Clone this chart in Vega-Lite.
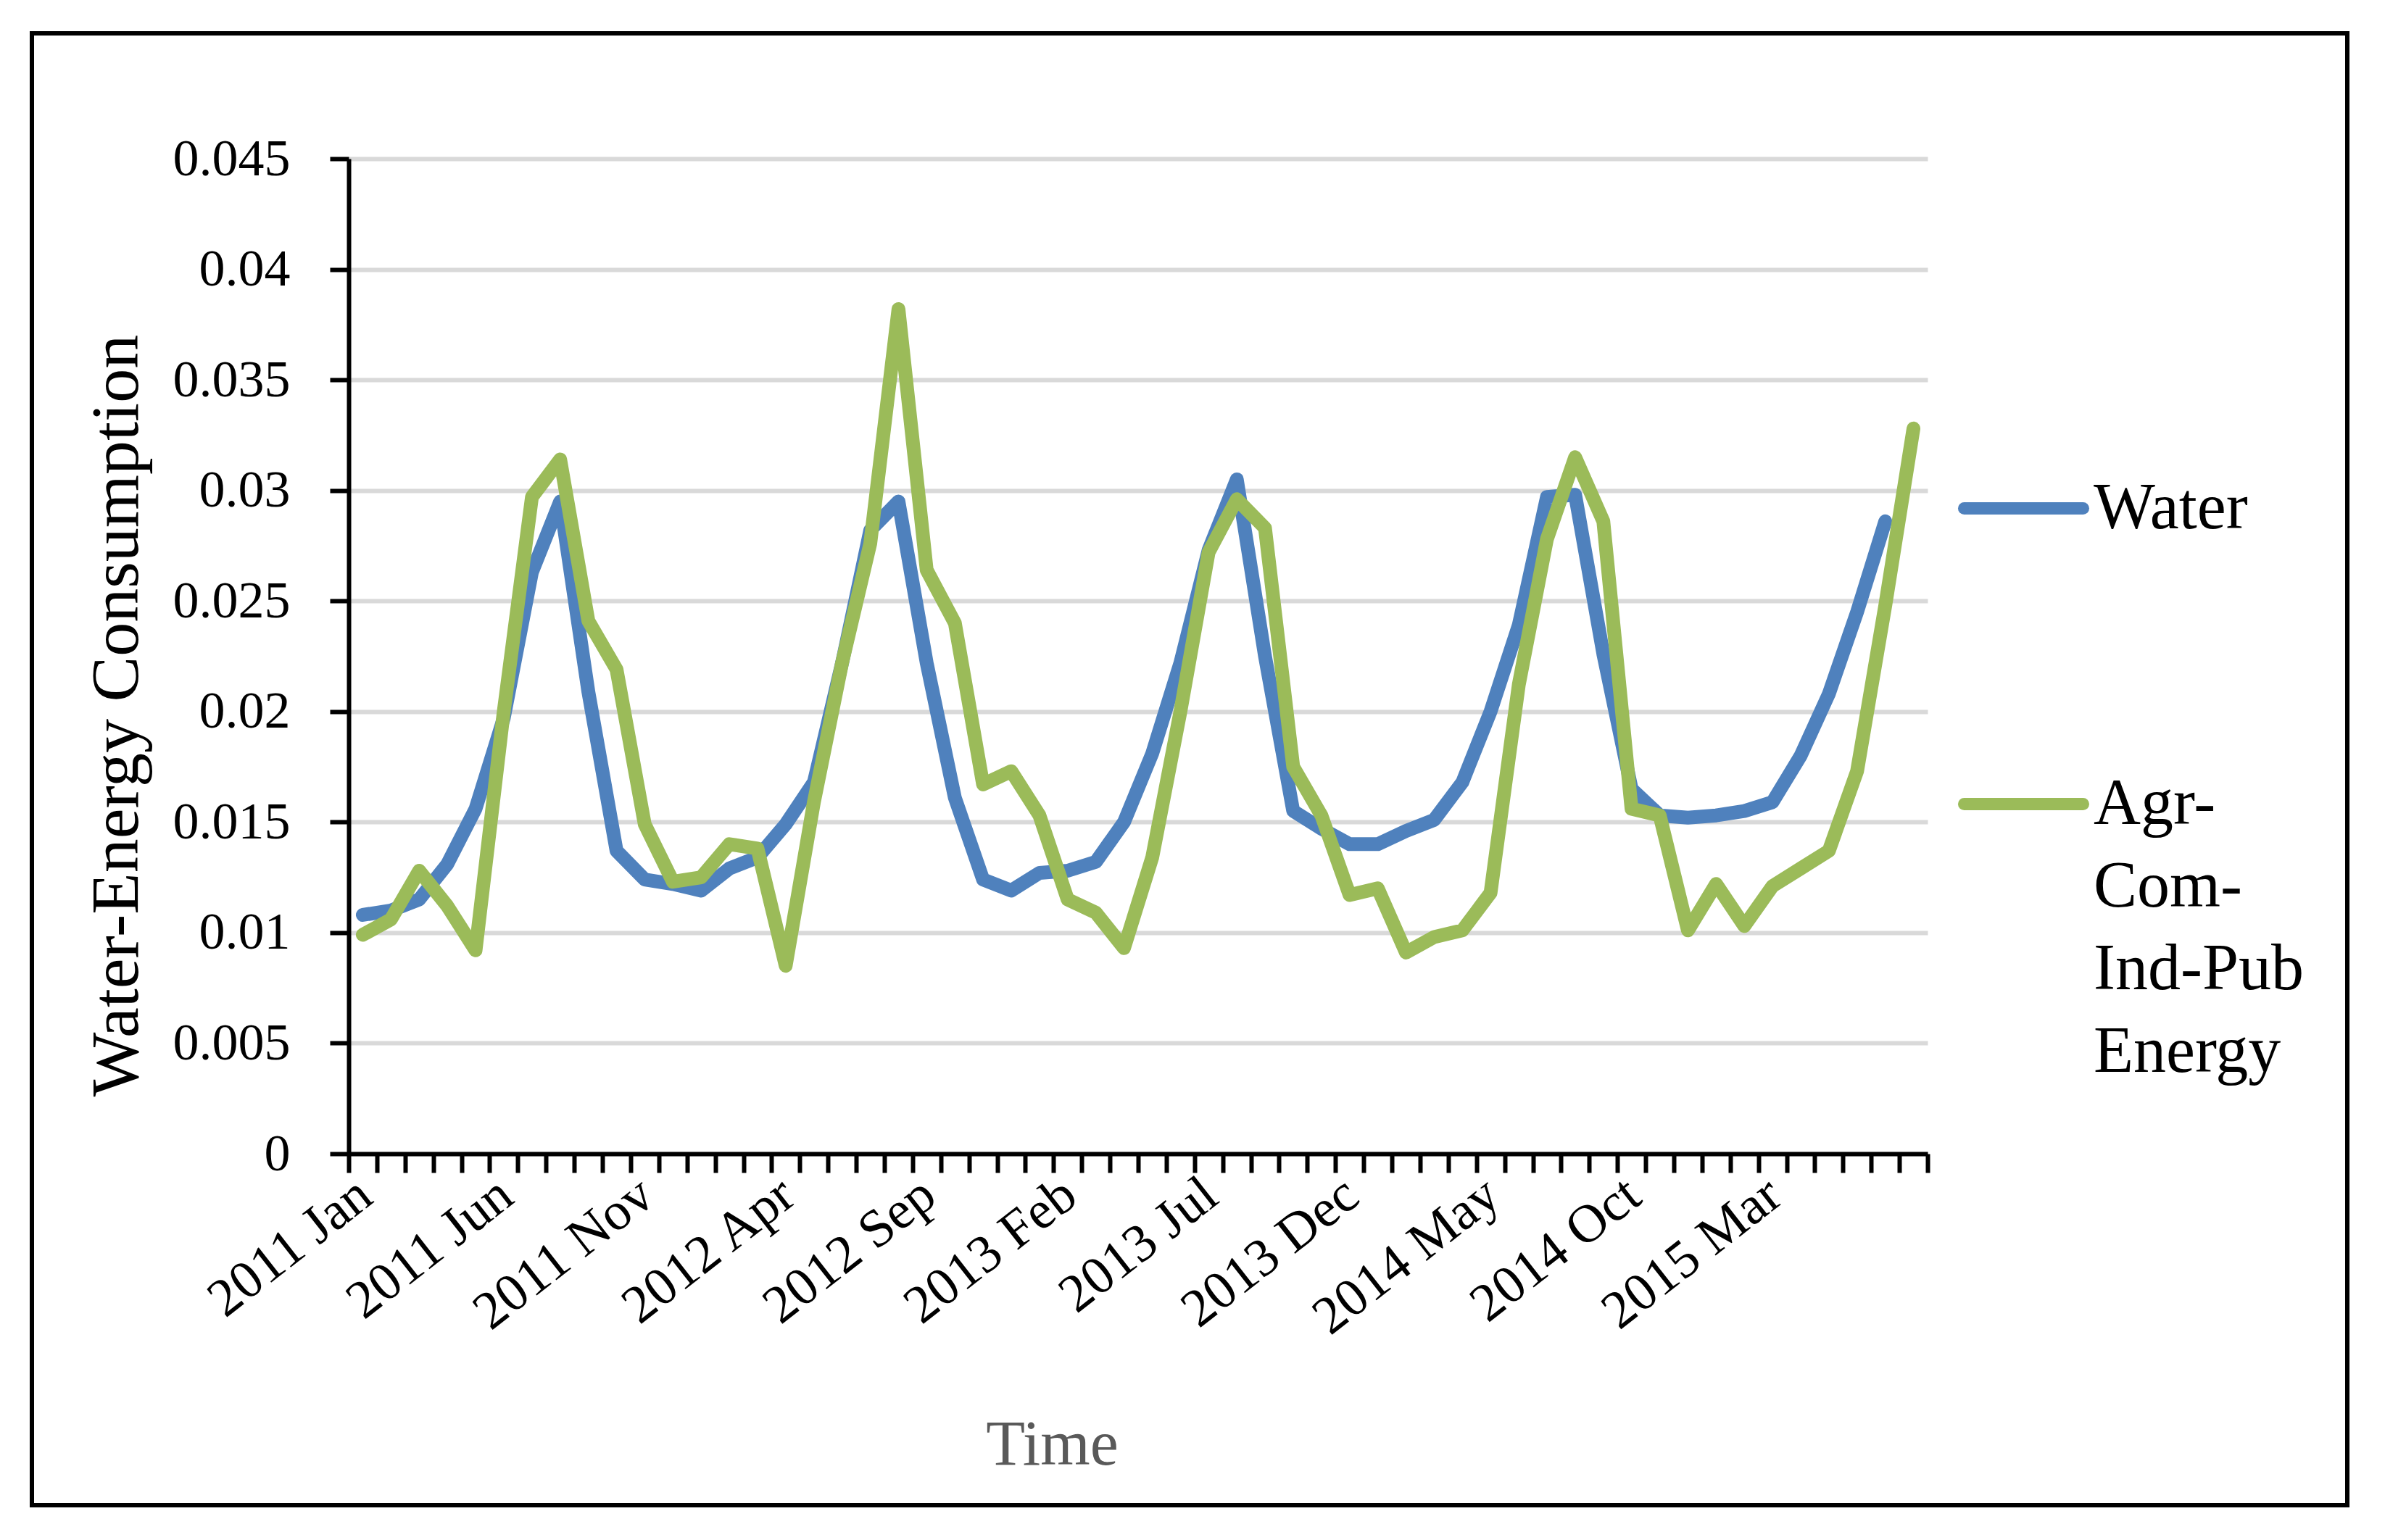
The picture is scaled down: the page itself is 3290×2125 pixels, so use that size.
{
  "$schema": "https://vega.github.io/schema/vega-lite/v6.json",
  "width": 3194,
  "height": 2031,
  "autosize": {"type": "none"},
  "padding": {"left": 44, "top": 46, "right": 52, "bottom": 48},
  "background": "white",
  "config": {"view": {"stroke": "black", "strokeWidth": 6}, "font": "Liberation Serif"},
  "data": {"values": [
    {"m": "2011 Jan", "Water": 0.0108, "Agr-Com-Ind-Pub Energy": 0.0099},
    {"m": "2011 Feb", "Water": 0.0110, "Agr-Com-Ind-Pub Energy": 0.0106},
    {"m": "2011 Mar", "Water": 0.0115, "Agr-Com-Ind-Pub Energy": 0.0128},
    {"m": "2011 Apr", "Water": 0.0131, "Agr-Com-Ind-Pub Energy": 0.0112},
    {"m": "2011 May", "Water": 0.0156, "Agr-Com-Ind-Pub Energy": 0.0092},
    {"m": "2011 Jun", "Water": 0.0197, "Agr-Com-Ind-Pub Energy": 0.0200},
    {"m": "2011 Jul", "Water": 0.0263, "Agr-Com-Ind-Pub Energy": 0.0297},
    {"m": "2011 Aug", "Water": 0.0295, "Agr-Com-Ind-Pub Energy": 0.0314},
    {"m": "2011 Sep", "Water": 0.0209, "Agr-Com-Ind-Pub Energy": 0.0241},
    {"m": "2011 Oct", "Water": 0.0137, "Agr-Com-Ind-Pub Energy": 0.0219},
    {"m": "2011 Nov", "Water": 0.0124, "Agr-Com-Ind-Pub Energy": 0.0149},
    {"m": "2011 Dec", "Water": 0.0122, "Agr-Com-Ind-Pub Energy": 0.0123},
    {"m": "2012 Jan", "Water": 0.0119, "Agr-Com-Ind-Pub Energy": 0.0125},
    {"m": "2012 Feb", "Water": 0.0129, "Agr-Com-Ind-Pub Energy": 0.0140},
    {"m": "2012 Mar", "Water": 0.0134, "Agr-Com-Ind-Pub Energy": 0.0138},
    {"m": "2012 Apr", "Water": 0.0149, "Agr-Com-Ind-Pub Energy": 0.0085},
    {"m": "2012 May", "Water": 0.0168, "Agr-Com-Ind-Pub Energy": 0.0159},
    {"m": "2012 Jun", "Water": 0.0222, "Agr-Com-Ind-Pub Energy": 0.0222},
    {"m": "2012 Jul", "Water": 0.0282, "Agr-Com-Ind-Pub Energy": 0.0276},
    {"m": "2012 Aug", "Water": 0.0295, "Agr-Com-Ind-Pub Energy": 0.0382},
    {"m": "2012 Sep", "Water": 0.0222, "Agr-Com-Ind-Pub Energy": 0.0264},
    {"m": "2012 Oct", "Water": 0.0161, "Agr-Com-Ind-Pub Energy": 0.0240},
    {"m": "2012 Nov", "Water": 0.0124, "Agr-Com-Ind-Pub Energy": 0.0167},
    {"m": "2012 Dec", "Water": 0.0119, "Agr-Com-Ind-Pub Energy": 0.0173},
    {"m": "2013 Jan", "Water": 0.0127, "Agr-Com-Ind-Pub Energy": 0.0153},
    {"m": "2013 Feb", "Water": 0.0128, "Agr-Com-Ind-Pub Energy": 0.0115},
    {"m": "2013 Mar", "Water": 0.0132, "Agr-Com-Ind-Pub Energy": 0.0109},
    {"m": "2013 Apr", "Water": 0.0150, "Agr-Com-Ind-Pub Energy": 0.0093},
    {"m": "2013 May", "Water": 0.0181, "Agr-Com-Ind-Pub Energy": 0.0134},
    {"m": "2013 Jun", "Water": 0.0222, "Agr-Com-Ind-Pub Energy": 0.0200},
    {"m": "2013 Jul", "Water": 0.0273, "Agr-Com-Ind-Pub Energy": 0.0272},
    {"m": "2013 Aug", "Water": 0.0305, "Agr-Com-Ind-Pub Energy": 0.0296},
    {"m": "2013 Sep", "Water": 0.0225, "Agr-Com-Ind-Pub Energy": 0.0283},
    {"m": "2013 Oct", "Water": 0.0155, "Agr-Com-Ind-Pub Energy": 0.0175},
    {"m": "2013 Nov", "Water": 0.0147, "Agr-Com-Ind-Pub Energy": 0.0153},
    {"m": "2013 Dec", "Water": 0.0140, "Agr-Com-Ind-Pub Energy": 0.0117},
    {"m": "2014 Jan", "Water": 0.0140, "Agr-Com-Ind-Pub Energy": 0.0120},
    {"m": "2014 Feb", "Water": 0.0146, "Agr-Com-Ind-Pub Energy": 0.0091},
    {"m": "2014 Mar", "Water": 0.0151, "Agr-Com-Ind-Pub Energy": 0.0098},
    {"m": "2014 Apr", "Water": 0.0168, "Agr-Com-Ind-Pub Energy": 0.0101},
    {"m": "2014 May", "Water": 0.0200, "Agr-Com-Ind-Pub Energy": 0.0118},
    {"m": "2014 Jun", "Water": 0.0239, "Agr-Com-Ind-Pub Energy": 0.0212},
    {"m": "2014 Jul", "Water": 0.0297, "Agr-Com-Ind-Pub Energy": 0.0278},
    {"m": "2014 Aug", "Water": 0.0298, "Agr-Com-Ind-Pub Energy": 0.0315},
    {"m": "2014 Sep", "Water": 0.0226, "Agr-Com-Ind-Pub Energy": 0.0286},
    {"m": "2014 Oct", "Water": 0.0165, "Agr-Com-Ind-Pub Energy": 0.0156},
    {"m": "2014 Nov", "Water": 0.0153, "Agr-Com-Ind-Pub Energy": 0.0153},
    {"m": "2014 Dec", "Water": 0.0152, "Agr-Com-Ind-Pub Energy": 0.0101},
    {"m": "2015 Jan", "Water": 0.0153, "Agr-Com-Ind-Pub Energy": 0.0122},
    {"m": "2015 Feb", "Water": 0.0155, "Agr-Com-Ind-Pub Energy": 0.0103},
    {"m": "2015 Mar", "Water": 0.0159, "Agr-Com-Ind-Pub Energy": 0.0121},
    {"m": "2015 Apr", "Water": 0.0180, "Agr-Com-Ind-Pub Energy": 0.0129},
    {"m": "2015 May", "Water": 0.0208, "Agr-Com-Ind-Pub Energy": 0.0137},
    {"m": "2015 Jun", "Water": 0.0245, "Agr-Com-Ind-Pub Energy": 0.0173},
    {"m": "2015 Jul", "Water": 0.0286, "Agr-Com-Ind-Pub Energy": 0.0248},
    {"m": "2015 Aug", "Water": null, "Agr-Com-Ind-Pub Energy": 0.0328}
  ]},
  "transform": [{"fold": ["Water", "Agr-Com-Ind-Pub Energy"], "as": ["series", "value"]}],
  "mark": {"type": "line", "strokeWidth": 19, "strokeCap": "round", "strokeJoin": "round"},
  "encoding": {
    "x": {
      "field": "m", "type": "ordinal", "sort": null, "bandPosition": 0.5,
      "scale": {"type": "band", "range": [437, 2615], "paddingInner": 0, "paddingOuter": 0},
      "axis": {
        "orient": "bottom", "offset": -485,
        "title": "Time", "titleX": 1407, "titleY": 428, "titleBaseline": "alphabetic", "titleAlign": "center",
        "titleFontSize": 88, "titleColor": "#595959", "titleFontWeight": "normal", "titleFont": "Liberation Serif",
        "domainColor": "black", "domainWidth": 6, "tickColor": "black", "tickWidth": 6, "tickSize": 26,
        "tickBand": "extent", "grid": false,
        "labelAngle": -38, "labelAlign": "right", "labelBaseline": "middle", "labelFontSize": 74,
        "labelFont": "Liberation Serif", "labelColor": "black", "labelPadding": 22, "labelOffset": 3,
        "labelLimit": 1000, "labelOverlap": false, "labelBound": false,
        "labelExpr": "indexof(['2011 Jan','2011 Jun','2011 Nov','2012 Apr','2012 Sep','2013 Feb','2013 Jul','2013 Dec','2014 May','2014 Oct','2015 Mar'], datum.value) >= 0 ? datum.value : ''"
      }
    },
    "y": {
      "field": "value", "type": "quantitative",
      "scale": {"domain": [0, 0.045], "range": [1546, 173], "nice": false, "zero": true},
      "axis": {
        "orient": "left", "offset": -437,
        "values": [0, 0.005, 0.01, 0.015, 0.02, 0.025, 0.03, 0.035, 0.04, 0.045], "format": "~g",
        "title": "Water-Energy Consumption", "titleX": -292, "titleY": 941, "titleAngle": -90,
        "titleBaseline": "alphabetic", "titleAlign": "center", "titleFontSize": 94, "titleColor": "black",
        "titleFontWeight": "normal", "titleFont": "Liberation Serif",
        "domainColor": "black", "domainWidth": 6, "tickColor": "black", "tickWidth": 6, "tickSize": 26,
        "labelFontSize": 72, "labelFont": "Liberation Serif", "labelColor": "black", "labelPadding": 55,
        "grid": true, "gridColor": "#d9d9d9", "gridWidth": 6
      }
    },
    "color": {
      "field": "series", "type": "nominal",
      "scale": {"domain": ["Water", "Agr-Com-Ind-Pub Energy"], "range": ["#4F81BD", "#9BBB59"]},
      "legend": {
        "orient": "none", "legendX": 2657, "legendY": 565, "direction": "vertical", "title": null,
        "padding": 0, "symbolType": "stroke", "symbolSize": 26896, "symbolStrokeWidth": 17,
        "labelFontSize": 90, "labelFont": "Liberation Serif", "labelColor": "black", "labelOffset": 6,
        "labelLimit": 1000, "rowPadding": 272,
        "labelExpr": "datum.label == 'Agr-Com-Ind-Pub Energy' ? ['Agr-', 'Com-', 'Ind-Pub', 'Energy'] : datum.label",
        "encode": {
          "labels": {"update": {"lineHeight": {"value": 114}}},
          "symbols": {"update": {"strokeCap": {"value": "round"}}}
        }
      }
    }
  }
}
